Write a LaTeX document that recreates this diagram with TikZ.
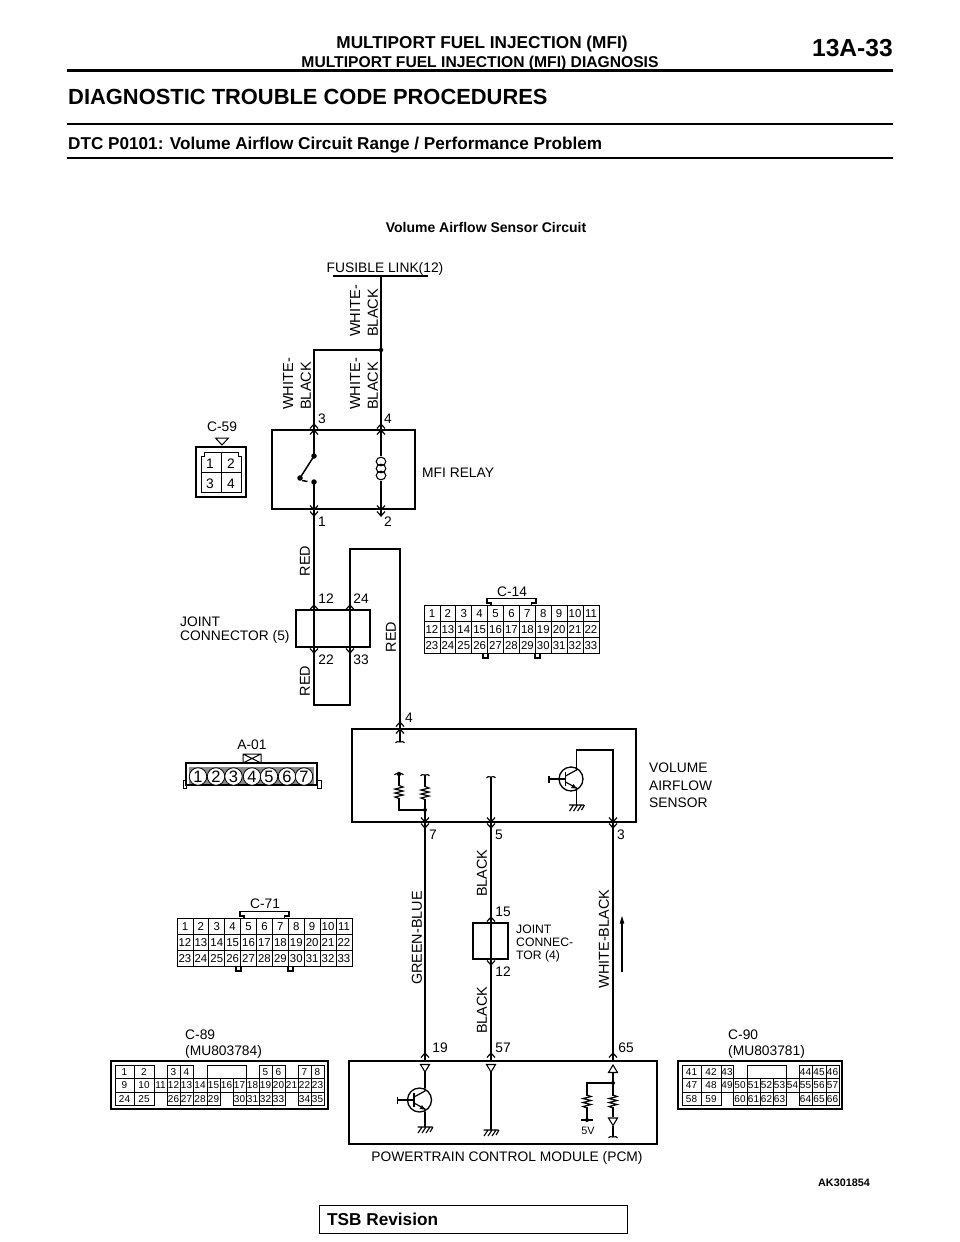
\documentclass[tikz,border=0pt]{standalone}
\usepackage{fontspec}
\setmainfont{Liberation Sans}
\newcommand{\fs}[1]{\fontsize{#1}{#1}\selectfont}
\tikzset{
  x=1pt,y=-1pt,
  wire/.style={line width=2pt,line join=miter},
  thinw/.style={line width=1.5pt},
  frame/.style={draw,line width=1.3pt,inner sep=0pt,rectangle},
  lbl/.style={inner sep=0pt,yshift=-1pt,font=\fs{13.8}},
  rotlbl/.style={inner sep=0pt,yshift=-1pt,font=\fs{14.4},rotate=90},
  smalltxt/.style={inner sep=0pt,font=\fs{12.2},align=left,text depth=0pt},
  wirelbl/.style={inner sep=0pt,font=\fs{14.6},rotate=90,align=left,anchor=west},
  hdr/.style={inner sep=0pt,yshift=-1pt,font=\fs{14.2}\bfseries},
  cellb/.style={draw,line width=.8pt,inner sep=0pt,font=\fs{11.4},text height=8.2pt,text depth=0pt},
  cellsm/.style={draw,line width=.8pt,inner sep=0pt,font=\fs{10},text height=7.2pt,text depth=0pt},
  chevup/.pic={\draw[line width=1.2pt] (-4,4.5)--(0,0)--(4,4.5);},
  chevdn/.pic={\draw[line width=1.2pt] (-4,-4.5)--(0,0)--(4,-4.5);},
  tstub/.pic={\draw[line width=1.1pt] (-4.5,.8) .. controls (-3,-.6) .. (0,0) .. controls (3,-.6) .. (4.5,.8);},
  tridn/.pic={\draw[line width=1.1pt,fill=white] (-4.5,0)--(4.5,0)--(0,7.5)--cycle;},
  triup/.pic={\draw[line width=1.1pt,fill=white] (-4.5,7.5)--(4.5,7.5)--(0,0)--cycle;},
  resist/.pic={\draw[line width=1.2pt] (0,0)--(4,1.5)--(-4,3.5)--(4,5.5)--(-4,7.5)--(4,9.5)--(-4,11.5)--(0,13);},
  gnd/.pic={\draw[line width=1.1pt] (-7.5,0)--(7.5,0)
     (-3,0)--(-7,6) (1,0)--(-3,6) (5,0)--(1,6) (8,0)--(5,5);},
  trans/.pic={
    \draw[line width=1.3pt] (0,0) circle (12);
    \draw[line width=1.8pt] (-5.5,-7)--(-5.5,7);
    \draw[line width=1.2pt] (-22,0)--(-5.5,0) (-22,-3.5)--(-22,3.5);
    \draw[line width=1.2pt] (-5.5,-3)--(5.5,-9)--(5.5,-12);
    \draw[line width=1.2pt] (-5.5,3)--(5.5,9)--(5.5,12);
    \fill (5.5,9.5)--(0,9)--(2.5,5)--cycle;
  },
  jdot/.style={circle,fill,inner sep=0pt,minimum size=#1},
  jdot/.default=4pt,
}
\begin{document}
\begin{tikzpicture}
\useasboundingbox (0,0) rectangle (960,1242);
\fill[white] (0,0) rectangle (960,1242);

% page header
\node[hdr,font=\fs{17.2}\bfseries] (h1) at (482,43) {MULTIPORT FUEL INJECTION (MFI)};
\node[hdr,font=\fs{15.65}\bfseries] (h2) at (480,62) {MULTIPORT FUEL INJECTION (MFI) DIAGNOSIS};
\node[hdr,font=\fs{24.6}\bfseries,anchor=east] (h3) at (893,47) {13A-33};
\node[hdr,font=\fs{21.9}\bfseries,anchor=west] (h4) at (68,95.5) {DIAGNOSTIC TROUBLE CODE PROCEDURES};
\node[hdr,font=\fs{17.15}\bfseries,anchor=west] (h5) at (68,144.5) {DTC P0101: Volume Airflow Circuit Range / Performance Problem};
\node[hdr,font=\fs{14}\bfseries] (h6) at (486,226) {Volume Airflow Sensor Circuit};
\node[hdr,font=\fs{10.8}\bfseries,anchor=east] (h7) at (870,1182) {AK301854};
\draw[line width=3pt] (67,70)--(893,70);
\draw[line width=1.5pt] (67,124)--(893,124);
\draw[line width=1.5pt] (67,158)--(893,158);
\node[draw,line width=1pt,minimum width=308pt,minimum height=28pt,inner sep=0pt] (tsb) at (473,1219) {};
\node[hdr,font=\fs{17.2}\bfseries,anchor=west] (tsbt) at (327,1218.5) {TSB Revision};

% boxes
\node[frame,minimum width=143pt,minimum height=79pt] (relay) at (343.5,469.5) {};
\node[frame,minimum width=74pt,minimum height=37pt] (j5) at (333,628.5) {};
\node[frame,minimum width=284pt,minimum height=93pt] (vaf) at (494,775.5) {};
\node[frame,minimum width=35pt,minimum height=36pt] (j4) at (490.5,941) {};
\node[frame,minimum width=308pt,minimum height=83pt] (pcm) at (503,1102.5) {};

% named wire points
\coordinate (fl0) at (333,276); \coordinate (fl1) at (428,276); \coordinate (fl) at (381,276);
\coordinate (sp) at (381,350); \coordinate (spL) at (314,350);
\coordinate (r3) at (314,430); \coordinate (r4) at (381,430);
\coordinate (r3sw) at (314,456); \coordinate (r1sw) at (314,482);
\coordinate (swp) at (300,478);
\coordinate (coilT) at (381,456); \coordinate (coilB) at (381,481);
\coordinate (r1) at (314,509); \coordinate (r2) at (381,515);
\coordinate (j5bl) at (314,705); \coordinate (j5br) at (350,705);
\coordinate (j5tr) at (350,549); \coordinate (j5tt) at (400,549);
\coordinate (v4) at (400,742);
\coordinate (r1t) at (399,774); \coordinate (r1b) at (399,810); \coordinate (r2t) at (425,775);
\coordinate (v7j) at (425,810); \coordinate (p19) at (425,1061);
\coordinate (v5t) at (491,777); \coordinate (p57) at (491,1061);
\coordinate (vc) at (576.5,768); \coordinate (vc1) at (576.5,750); \coordinate (vc2) at (613,750);
\coordinate (p65) at (613,1061);
\coordinate (ve) at (576.5,791); \coordinate (ve1) at (576.5,805);

% top wires
\draw[line width=1.5pt] (fl0)--(fl1);
\draw[wire] (fl)--(sp)--(r4);
\draw[wire] (sp)--(spL)--(r3);
\node[jdot=4.5pt] (spd) at (sp) {};
% relay internals
\draw[thinw] (r3)--(r3sw);
\draw[thinw] (r1sw)--(r1);
\draw[line width=1.5pt] (swp)--(r3sw) (302,480.5)--(307.5,481.5);
\node[jdot=5.5pt] (d1) at (r3sw) {};
\node[jdot=5.5pt] (d2) at (swp) {};
\node[jdot=5.5pt] (d3) at (r1sw) {};
\draw[thinw] (r4)--(coilT) (coilB)--(381,509);
\foreach \yy in {461.5,468.5,475.5}
  \draw[line width=1.1pt] (381,\yy) ellipse (4.8 and 4.3);
\draw[thinw] (381,509)--(r2);
\foreach \p in {{314,424},{314,430},{381,424},{381,430}} \pic at (\p) {chevup};
\foreach \p in {{314,510},{314,516},{381,510},{381,516}} \pic at (\p) {chevdn};

% relay to joint and sensor
\draw[wire] (r1)--(j5bl)--(j5br)--(j5tr)--(j5tt)--(400,729);
\draw[thinw] (400,729)--(v4);
\pic at (v4) {tstub};
\foreach \p in {{314,605},{350,605}} \pic at (\p) {chevup};
\foreach \p in {{314,653},{350,653}} \pic at (\p) {chevdn};
\foreach \p in {{400,722},{400,729}} \pic at (\p) {chevup};

% sensor internals
\pic at (r1t) {tstub};
\pic at (r2t) {tstub};
\node[jdot=4.5pt] (d4) at (r1t) {};
\pic at (399,785.5) {resist};
\pic at (425,786.5) {resist};
\draw[thinw] (r1t)--(399,786) (399,798)--(r1b)--(v7j);
\draw[thinw] (r2t)--(425,787) (425,799)--(v7j)--(425,822);
\node[jdot=4pt] (d5) at (v7j) {};
\pic at (v5t) {tstub};
\draw[thinw] (v5t)--(491,822);
\pic at (571,779) {trans};
\draw[thinw] (vc)--(vc1)--(vc2)--(613,822);
\draw[thinw] (ve)--(ve1);
\pic at (ve1) {gnd};
\foreach \p in {{425,822},{425,828},{491,822},{491,828},{613,822},{613,828}} \pic at (\p) {chevdn};

% long wires to PCM
\draw[wire] (425,822)--(p19);
\draw[wire] (491,822)--(p57);
\draw[wire] (613,822)--(p65);
\foreach \p in {{425,1053},{491,1053},{613,1053}} \pic at (\p) {chevup};
\pic at (491,917) {chevup};
\pic at (491,965) {chevdn};

% flow arrow
\draw[line width=1.3pt] (622,972)--(622,922);
\fill (622,916)--(619.7,923.5)--(624.3,923.5)--cycle;

% PCM internals
\pic at (425,1064.5) {tridn};
\pic at (491,1064.5) {tridn};
\pic at (613,1065) {triup};
\pic at (419.5,1100) {trans};
\draw[thinw] (425,1072)--(425,1088) (425,1112)--(425,1127);
\pic at (425,1127) {gnd};
\draw[thinw] (491,1072)--(491,1130);
\pic at (491,1130) {gnd};
\draw[thinw] (613,1072)--(613,1096) (613,1083)--(587,1083)--(587,1096);
\node[jdot=4pt] (d6) at (613,1083) {};
\pic at (587,1095) {resist};
\pic at (613,1095) {resist};
\draw[thinw] (587,1107)--(587,1120);
\draw[line width=1.1pt] (581,1120)--(593,1120);
\node[jdot=4pt] (d7) at (587,1120) {};
\draw[thinw] (613,1107)--(613,1117);
\pic at (613,1118) {tridn};
\draw[thinw] (613,1126)--(613,1137);
\pic at (613,1137) {tstub};
\node[inner sep=0pt,font=\fs{10.8}] (t5v) at (588,1131) {5V};

% wire labels
\node[lbl] (tfl) at (385,267.5) {FUSIBLE LINK(12)};
\node[wirelbl,text width=60pt] (w1) at (364,337) {WHITE-\\[3pt]BLACK};
\node[wirelbl,text width=60pt] (w2) at (364,410) {WHITE-\\[3pt]BLACK};
\node[wirelbl,text width=60pt] (w3) at (297,410) {WHITE-\\[3pt]BLACK};
\node[rotlbl] (tr1) at (305,560) {RED};
\node[rotlbl] (tr2) at (305,680) {RED};
\node[rotlbl] (tr3) at (391,636) {RED};
\node[rotlbl] (tgb) at (417,937) {GREEN-BLUE};
\node[rotlbl] (tb1) at (482,872) {BLACK};
\node[rotlbl] (tb2) at (482,1009) {BLACK};
\node[rotlbl] (twb) at (604,938) {WHITE-BLACK};
\foreach \n/\xy/\t in {a/{322,418}/3,b/{388,418}/4,c/{322,521}/1,d/{388,521}/2,
  e/{326,598}/12,f/{361,598}/24,g/{326,659}/22,h/{361,659}/33,i/{409,717}/4,
  j/{433,834}/7,k/{499,834}/5,l/{621,834}/3,m/{503,911}/15,n/{503,971}/12,
  o/{440,1047}/19,p/{503,1047}/57,q/{626,1047}/65}
  \node[lbl] (pin\n) at (\xy) {\t};
\node[lbl,anchor=west] (tmfi) at (422,472) {MFI RELAY};
\node[lbl,anchor=north west,align=left] (tj5) at (180,616) {JOINT\\[-.6pt]CONNECTOR (5)};
\node[smalltxt,anchor=north west] (tj4) at (516,925) {JOINT\\[.6pt]CONNEC-\\[.6pt]TOR (4)};
\node[lbl,anchor=north west,align=left] (tvas) at (649,762) {VOLUME\\[3.4pt]AIRFLOW\\[3.4pt]SENSOR};
\node[lbl] (tpcm) at (507,1157) {POWERTRAIN CONTROL MODULE (PCM)};

% C-59
\node[lbl] (c59t) at (222,426) {C-59};
\draw[line width=1pt] (215.5,438)--(228.5,438)--(222,445)--cycle;
\node[frame,minimum width=50pt,minimum height=50pt] (c59) at (221,472) {};
\draw[line width=.8pt] (201,456)--(204,456)--(204,452)--(238,452)--(238,456)--(241.5,456)--(241.5,492)--(201,492)--cycle;
\draw[line width=.8pt] (221,452)--(221,492) (201,472)--(241.5,472);
\foreach \n/\x/\y in {1/210/463,2/231/463,3/210/483,4/231/483}
  \node[lbl] (c59n\n) at (\x,\y) {\n};

% C-14 and C-71 helpers
\foreach \nm/\xo/\yo/\lbx/\lby in {c14/424/605/512/591,c71/177/918/265/903}{
  \node[lbl] (\nm t) at (\lbx,\lby) {\ifnum\xo=424 C-14\else C-71\fi};
  \draw[line width=1.2pt] (\xo+67,\yo)--(\xo+67,\yo-2)--(\xo+63,\yo-2)--(\xo+63,\yo-6.5)--(\xo+112,\yo-6.5)--(\xo+112,\yo-2)--(\xo+107.5,\yo-2)--(\xo+107.5,\yo);
  \draw[line width=1.2pt] (\xo+59,\yo+48)--(\xo+59,\yo+53)--(\xo+64,\yo+53)--(\xo+64,\yo+48)
     (\xo+111,\yo+48)--(\xo+111,\yo+53)--(\xo+116,\yo+53)--(\xo+116,\yo+48);
  \foreach \r in {0,1,2}
    \foreach \c in {0,...,10}{
      \pgfmathtruncatemacro{\num}{\r*11+\c+1}
      \node[cellb,minimum width=15.9pt,minimum height=16pt] (\nm-\num) at ({\xo+(\c+.5)*15.9},{\yo+(\r+.5)*16}) {\num};
    }
}

% A-01
\node[lbl] (a01t) at (252,744) {A-01};
\draw[line width=1pt] (243,754) rectangle (261,763) (243,754)--(261,763) (243,763)--(261,754);
\node[frame,minimum width=131pt,minimum height=22pt] (a01) at (251.5,774) {};
\draw[line width=1pt] (186,780)--(183,780)--(183,788)--(186,788)--(186,785);
\draw[line width=1pt] (317,780)--(321,780)--(321,788)--(317,788)--(317,785);
\fill[black!45] (189,767) rectangle (314,784);
\foreach \n/\x in {1/198,2/216,3/233.5,4/252,5/269,6/287,7/304}
  \node[draw,fill=white,circle,line width=.8pt,minimum size=17.5pt,inner sep=0pt,font=\fs{16.5},text height=11.8pt,text depth=0pt] (a01n\n) at (\x,776.5) {\n};

% C-89
\node[lbl,anchor=west] (c89t) at (185,1034) {C-89};
\node[lbl,anchor=west] (c89p) at (185,1051) {(MU803784)};
\node[frame,minimum width=217pt,minimum height=48pt] (c89) at (219.5,1085) {};
\foreach \rr/\y/\h/\lst in {r1/1071.5/13/{115/134/1,134/154/2,167/180/3,180/193/4,207/246/{},259/272/5,272/285/6,298/311/7,311/324/8},
  r2/1085/14/{115/134/9,134/154/10,154/167/11,167/180/12,180/193/13,193/207/14,207/220/15,220/233/16,233/246/17,246/259/18,259/272/19,272/285/20,285/298/21,298/311/22,311/324/23},
  r3/1098.5/13/{115/134/24,134/154/25,167/180/26,180/193/27,193/207/28,207/220/29,233/246/30,246/259/31,259/272/32,272/285/33,298/311/34,311/324/35}}
  \foreach \a/\b/\t in \lst
    \node[cellsm,minimum width={(\b-\a)*1pt},minimum height={\h*1pt}] (c89-\rr-\a) at ({(\a+\b)/2},\y) {\t};

% C-90
\node[lbl,anchor=west] (c90t) at (728,1034) {C-90};
\node[lbl,anchor=west] (c90p) at (728,1051) {(MU803781)};
\node[frame,minimum width=164pt,minimum height=48pt] (c90) at (760,1085) {};
\foreach \rr/\y/\h/\lst in {r1/1071.5/13/{682/701/41,701/721/42,721/733/43,747/786/{},799/812/44,812/826/45,826/839/46},
  r2/1085/14/{682/701/47,701/721/48,721/733/49,733/747/50,747/760/51,760/773/52,773/786/53,786/799/54,799/812/55,812/826/56,826/839/57},
  r3/1098.5/13/{682/701/58,701/721/59,733/747/60,747/760/61,760/773/62,773/786/63,799/812/64,812/826/65,826/839/66}}
  \foreach \a/\b/\t in \lst
    \node[cellsm,minimum width={(\b-\a)*1pt},minimum height={\h*1pt}] (c90-\rr-\a) at ({(\a+\b)/2},\y) {\t};
\end{tikzpicture}
\end{document}
